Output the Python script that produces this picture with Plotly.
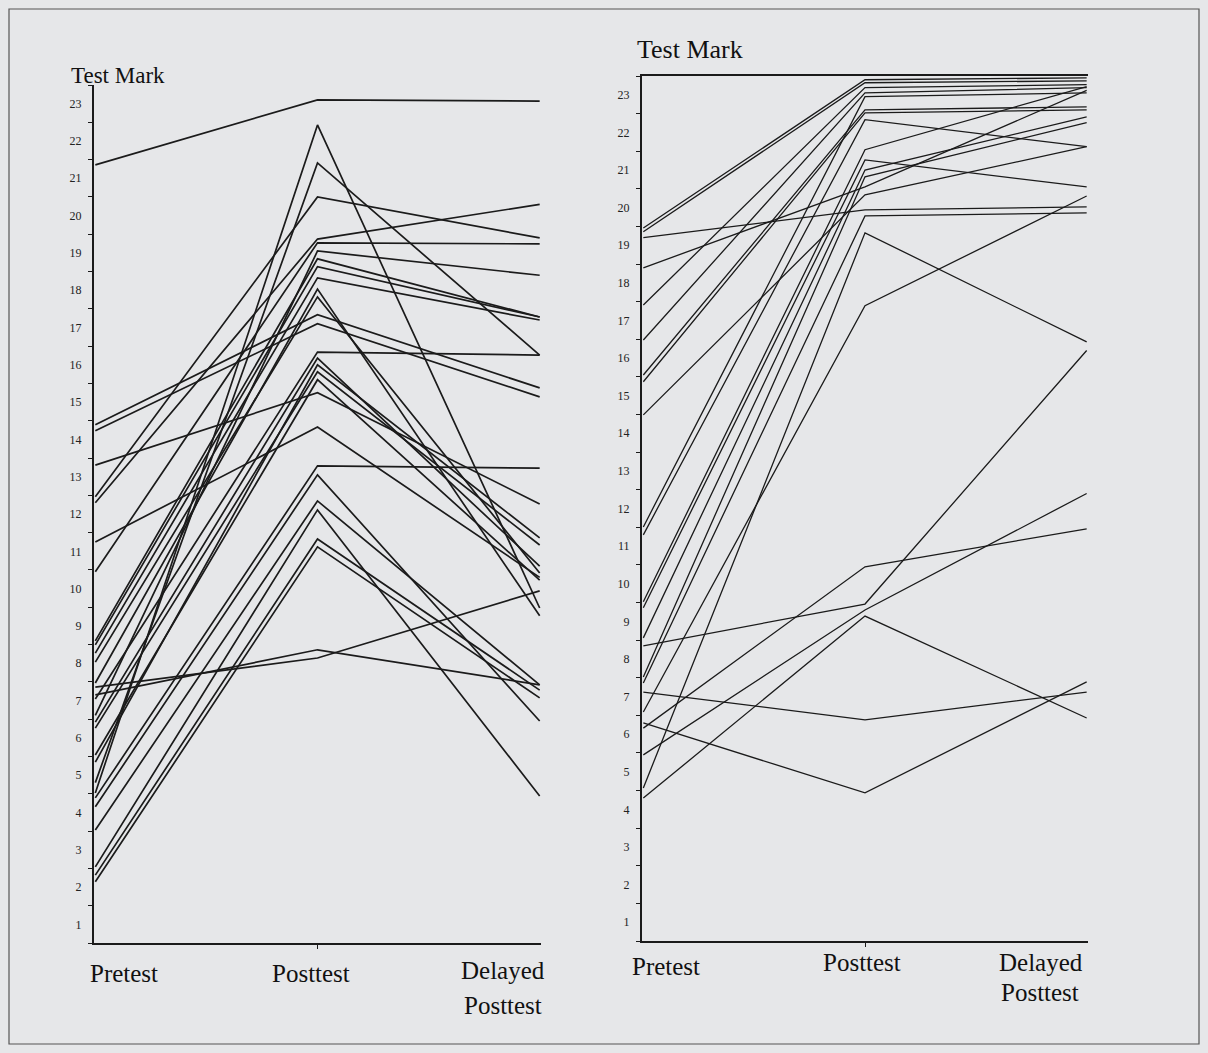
import plotly.graph_objects as go

# ---------------- data ----------------
stages = ["Pretest", "Posttest", "Delayed Posttest"]
stage_pos = [0, 1, 2]

# Left panel (one entry per student)
left_pre = [21.36, 14.39, 14.23, 13.31, 12.46, 12.30, 11.25, 10.45, 8.60, 8.49,
            8.27, 8.03, 7.47, 7.36, 7.15, 7.04, 6.60, 6.42, 6.26, 5.54,
            5.35, 4.80, 4.52, 4.39, 4.15, 3.53, 2.54, 2.32, 2.14]
left_post = [23.10, 17.34, 17.10, 15.25, 20.50, 19.37, 14.33, 19.27, 18.84, 18.63,
             18.33, 17.82, 18.03, 8.14, 8.36, 16.34, 19.05, 16.18, 15.81, 15.60,
             16.00, 21.41, 22.43, 13.29, 13.05, 12.35, 12.11, 11.33, 11.12]
left_delayed = [23.07, 15.38, 15.14, 12.27, 19.40, 20.30, 10.30, 19.24, 17.28, 17.28,
                17.20, 10.42, 9.27, 9.94, 7.42, 16.26, 18.40, 10.60, 11.17, 10.23,
                11.36, 16.26, 9.48, 13.23, 6.45, 7.42, 4.44, 7.28, 7.07]

# Right panel
right_pre = [19.46, 19.36, 19.20, 18.40, 17.41, 16.48, 15.55, 15.37, 14.49, 11.51,
             11.30, 9.52, 9.36, 8.56, 7.52, 7.36, 4.57, 6.59, 8.35, 7.12,
             6.30, 6.16, 5.45, 4.30]
right_post = [23.40, 23.32, 19.94, 20.55, 23.19, 23.05, 22.60, 22.52, 20.34, 22.95,
              22.34, 21.54, 21.27, 21.00, 20.82, 19.78, 19.33, 17.39, 9.46, 6.38,
              4.44, 10.45, 9.30, 9.14]
right_delayed = [23.45, 23.37, 20.02, 23.12, 23.27, 23.19, 22.68, 22.60, 21.62, 23.05,
                 21.62, 23.22, 20.55, 22.41, 22.26, 19.86, 16.43, 20.31, 16.20, 7.12,
                 7.39, 11.46, 12.40, 6.43]

y_ticks = list(range(1, 24))
y_range = [0.5, 23.5]

# ---------------- style ----------------
BG = "#e6e7e9"
INK = "#1b1b1b"
SERIF = "Liberation Serif"
W, H = 1208, 1053

fig = go.Figure()

for pre, post, dly in zip(left_pre, left_post, left_delayed):
    fig.add_trace(go.Scatter(x=stage_pos, y=[pre, post, dly], mode="lines",
                             line=dict(color=INK, width=1.7), hoverinfo="skip",
                             showlegend=False, xaxis="x", yaxis="y"))

for pre, post, dly in zip(right_pre, right_post, right_delayed):
    fig.add_trace(go.Scatter(x=stage_pos, y=[pre, post, dly], mode="lines",
                             line=dict(color=INK, width=1.3), hoverinfo="skip",
                             showlegend=False, xaxis="x2", yaxis="y2"))


def px_x(p):
    return p / W


def px_y(p):
    return 1 - p / H


yaxis_common = dict(
    range=y_range, tickvals=y_ticks, ticktext=[str(v) for v in y_ticks],
    ticks="", showgrid=False, zeroline=False, showline=True,
    linecolor=INK, linewidth=2, ticklabelstandoff=8,
    tickfont=dict(family=SERIF, size=12, color="#222"),
    minor=dict(tick0=0.5, dtick=1, ticks="outside", ticklen=4,
               tickcolor=INK, tickwidth=1.2, showgrid=False),
)
xaxis_common = dict(
    range=[-0.006, 2.006], tickvals=[1], ticktext=[""], ticks="outside",
    ticklen=4, tickcolor=INK, showgrid=False, zeroline=False, showline=True,
    linecolor=INK, linewidth=2,
)

fig.update_layout(
    width=W, height=H,
    margin=dict(l=0, r=0, t=0, b=0),
    paper_bgcolor=BG, plot_bgcolor=BG,
    showlegend=False,
    xaxis=dict(domain=[px_x(94), px_x(541)], anchor="y", **xaxis_common),
    yaxis=dict(domain=[px_y(943), px_y(85)], anchor="x", **yaxis_common),
    xaxis2=dict(domain=[px_x(642), px_x(1088)], anchor="y2", mirror=True,
                **xaxis_common),
    yaxis2=dict(domain=[px_y(941), px_y(76)], anchor="x2", **yaxis_common),
)

# outer frame
fig.add_shape(type="rect", xref="paper", yref="paper",
              x0=px_x(9), x1=px_x(1199), y0=px_y(1044), y1=px_y(9),
              line=dict(color="#555", width=1.2))

labels = [
    ("Test Mark", 118, 75, 23),
    ("Test Mark", 690, 50, 26),
    ("Pretest", 124, 973, 25),
    ("Posttest", 311, 973, 25),
    ("Delayed", 503, 970, 25),
    ("Posttest", 503, 1005, 25),
    ("Pretest", 666, 967, 25),
    ("Posttest", 862, 962, 25),
    ("Delayed", 1041, 962, 25),
    ("Posttest", 1040, 992, 25),
]
for text, cx, cy, size in labels:
    fig.add_annotation(text=text, xref="paper", yref="paper",
                       x=px_x(cx), y=px_y(cy), xanchor="center", yanchor="middle",
                       showarrow=False, font=dict(family=SERIF, size=size, color="#111"))

fig.write_html("out.html",
               config={"displayModeBar": False},
               post_script="document.body.style.margin='0';"
                           "document.body.style.overflow='hidden';")
